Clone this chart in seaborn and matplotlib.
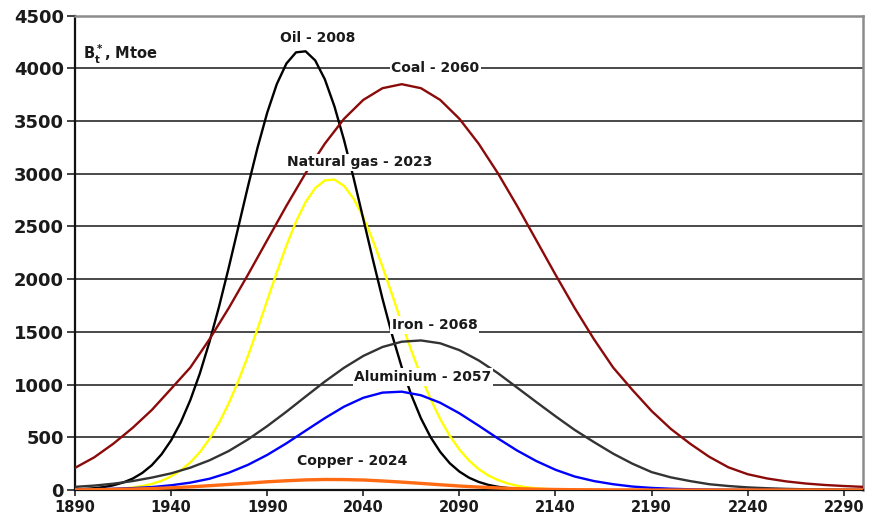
import numpy as np
import matplotlib
matplotlib.use("Agg")
import matplotlib.pyplot as plt
import seaborn as sns

# values (Mtoe)
oil = [6, 10, 17, 28, 45, 71, 108, 162, 236, 338, 471, 641, 853, 1108, 1407, 1743,
       2110, 2495, 2881, 3249, 3579, 3851, 4046, 4152, 4162, 4075, 3896, 3639, 3319,
       2957, 2572, 2186, 1814, 1471, 1165, 901, 680, 502, 362, 254, 175, 117, 77, 49,
       31, 19, 11]  # 5-year steps from 1890
gas = [1, 2, 3, 5, 9, 15, 24, 38, 58, 87, 129, 186, 262, 360, 486, 639, 823, 1035,
       1273, 1530, 1798, 2066, 2320, 2546, 2732, 2865, 2938, 2945, 2885, 2763, 2587,
       2367, 2118, 1852, 1583, 1323, 1081, 863, 674, 514, 384, 280, 199, 139, 95, 63,
       41, 26, 16, 10, 6]  # 5-year steps from 1890
coal = [210, 310, 440, 590, 760, 960, 1162, 1431, 1726, 2043, 2370, 2696, 3006, 3286,
        3522, 3701, 3812, 3850, 3812, 3701, 3522, 3286, 3006, 2696, 2370, 2043, 1726,
        1431, 1162, 950, 750, 580, 440, 315, 215, 150, 110, 82, 62, 48, 38, 30]
iron = [30, 42, 60, 85, 118, 158, 212, 282, 370, 480, 606, 743, 887, 1029, 1160, 1272,
        1357, 1407, 1419, 1392, 1327, 1230, 1109, 972, 835, 700, 570, 455, 345, 250,
        170, 120, 85, 55, 38, 25, 17, 11, 7, 5, 3, 2]
aluminium = [5, 8, 12, 18, 28, 45, 70, 107, 164, 239, 333, 443, 563, 682, 791, 875,
             924, 933, 899, 828, 728, 611, 490, 375, 275, 192, 128, 85, 55, 33, 20,
             12, 7, 4, 2, 1, 1, 0, 0, 0, 0, 0]
copper = [2, 3, 6, 9, 14, 21, 30, 41, 53, 65, 78, 88, 96, 100, 99, 95, 86, 75, 63, 50,
          38, 28, 20, 13, 8, 5, 3, 2, 1, 1, 0, 0, 0, 0, 0, 0, 0, 0, 0, 0, 0, 0]

labels = ["Oil - 2008", "Coal - 2060", "Natural gas - 2023", "Iron - 2068",
          "Aluminium - 2057", "Copper - 2024"]
label_x = [2016.5, 2077.5, 2038, 2077, 2071, 2034]
label_y = [4285, 4005, 3110, 1565, 1072, 275]

x_ticks = list(range(1890, 2291, 50))
y_ticks = list(range(0, 4501, 500))

sns.set_style("white")
plt.rcParams["font.family"] = ["DejaVu Sans"]
plt.rcParams["mathtext.fontset"] = "dejavusans"
plt.rcParams["mathtext.default"] = "bf"

fig = plt.figure(figsize=(8.75, 5.26), dpi=100)
ax = fig.add_axes([0.0857, 0.0684, 0.9006, 0.9018])

for yv in y_ticks[1:-1]:
    ax.axhline(yv, color="#3a3a3a", lw=1.3, zorder=1)

def years(vals, step):
    return np.arange(1890, 1890 + step * len(vals), step)

series = [
    (gas, 5, "#ffff00", 1.7),
    (oil, 5, "#000000", 1.7),
    (coal, 10, "#8b0a0a", 1.7),
    (iron, 10, "#333333", 1.7),
    (aluminium, 10, "#0000ff", 1.7),
    (copper, 10, "#ff6a13", 2.4),
]
for vals, step, col, lw in series:
    sns.lineplot(x=years(vals, step), y=vals, color=col, lw=lw, ax=ax,
                 legend=False, zorder=3)

for s, lx, ly in zip(labels, label_x, label_y):
    ax.text(lx, ly, s, ha="center", va="center", fontsize=10, fontweight="bold",
            color="#1a1a1a", zorder=6,
            bbox=dict(facecolor="white", edgecolor="none", pad=1.2))

ax.text(1894, 4130, r"B$_t^*$, Mtoe", fontsize=10.5, fontweight="bold",
        color="#1a1a1a", ha="left", va="center")

ax.set_xlim(1890, 2300)
ax.set_ylim(0, 4500)
ax.set_xticks(x_ticks)
ax.set_yticks(y_ticks)
ax.set_xlabel("")
ax.set_ylabel("")
ax.tick_params(axis="y", length=6, width=1.2, pad=2, labelsize=13, direction="out",
               left=True, color="#222222")
ax.tick_params(axis="x", length=4, width=1.2, pad=3, labelsize=10.5, direction="out",
               bottom=True, color="#222222")
for lab in ax.get_xticklabels() + ax.get_yticklabels():
    lab.set_fontweight("bold")
    lab.set_color("#1a1a1a")

ax.spines["left"].set_color("#111111")
ax.spines["left"].set_linewidth(1.6)
ax.spines["bottom"].set_color("#111111")
ax.spines["bottom"].set_linewidth(1.6)
ax.spines["top"].set_color("#8c8c8c")
ax.spines["top"].set_linewidth(1.8)
ax.spines["right"].set_color("#8c8c8c")
ax.spines["right"].set_linewidth(1.8)

fig.savefig("out.png", dpi=100, facecolor="white")
